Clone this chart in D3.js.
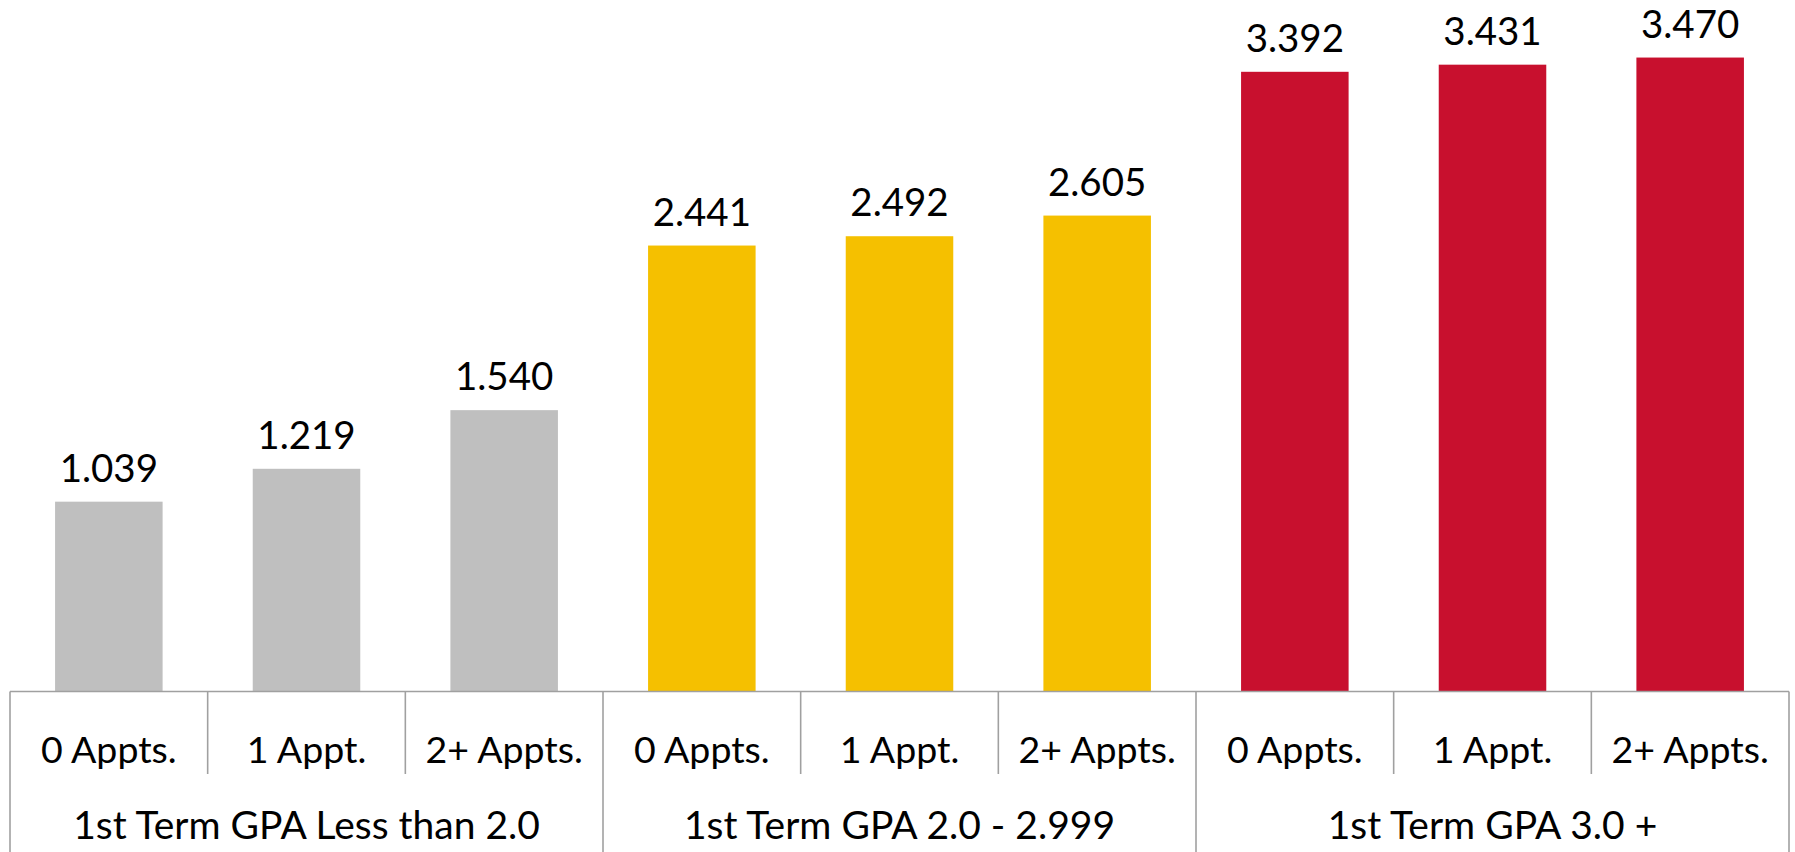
<!DOCTYPE html>
<html>
<head>
<meta charset="utf-8">
<script src="https://cdn.jsdelivr.net/npm/d3@7"></script>
<style>
  html, body { margin: 0; padding: 0; background: #ffffff; }
  svg { display: block; }
  text { font-family: Lato, "Open Sans", "Noto Sans", sans-serif; fill: #000; }
</style>
</head>
<body>
<svg id="chart" width="1795" height="852"></svg>
<script>
// ---- data ----
const groups = ["1st Term GPA Less than 2.0", "1st Term GPA 2.0 - 2.999", "1st Term GPA 3.0 +"];
const subCategories = ["0 Appts.", "1 Appt.", "2+ Appts."];
const groupValues = [
  [1.039, 1.219, 1.540],
  [2.441, 2.492, 2.605],
  [3.392, 3.431, 3.470]
];
const groupColors = ["#bfbfbf", "#f5c000", "#c8102e"];

// ---- layout ----
const W = 1795, H = 852;
const left = 10, right = 1789;
const axisY = 691.5;
const yMax = 3.785;

const svg = d3.select("#chart");

const rows = [];
groups.forEach((g, gi) => {
  subCategories.forEach((s, si) => {
    rows.push({ key: gi + "-" + si, group: g, gi, sub: s, value: groupValues[gi][si] });
  });
});

const xOuter = d3.scaleBand().domain(rows.map(d => d.key)).range([left, right]).paddingInner(0).paddingOuter(0);
const xBar = d3.scaleBand().domain(rows.map(d => d.key)).range([left, right]).paddingInner(0.456).paddingOuter(0.228);
const xGroup = d3.scaleBand().domain(groups).range([left, right]).padding(0);
const y = d3.scaleLinear().domain([0, yMax]).range([axisY, 0]);

// bars
svg.append("g").selectAll("rect").data(rows).join("rect")
  .attr("x", d => xBar(d.key))
  .attr("width", xBar.bandwidth())
  .attr("y", d => y(d.value))
  .attr("height", d => axisY - y(d.value))
  .attr("fill", d => groupColors[d.gi]);

// value labels
svg.append("g").selectAll("text").data(rows).join("text")
  .attr("x", d => xBar(d.key) + xBar.bandwidth() / 2)
  .attr("y", d => y(d.value) - 20)
  .attr("text-anchor", "middle")
  .style("font-size", "38.5px")
  .text(d => d.value.toFixed(3));

// axis lines
const lineColor = "#a0a0a0";
const ax = svg.append("g").attr("stroke", lineColor).attr("stroke-width", 1.6).attr("fill", "none");
ax.append("line").attr("x1", left).attr("x2", right).attr("y1", axisY).attr("y2", axisY);

// inner ticks (between sub-categories)
const innerBounds = rows.map(d => xOuter(d.key)).filter((x, i) => i % 3 !== 0);
ax.selectAll("line.inner").data(innerBounds).join("line").attr("class", "inner")
  .attr("x1", d => d).attr("x2", d => d).attr("y1", axisY).attr("y2", 774);

// group boundaries
const groupBounds = groups.map(g => xGroup(g)).concat([right]);
ax.selectAll("line.grp").data(groupBounds).join("line").attr("class", "grp")
  .attr("x1", d => d).attr("x2", d => d).attr("y1", axisY).attr("y2", H);

// sub-category labels
svg.append("g").selectAll("text").data(rows).join("text")
  .attr("x", d => xOuter(d.key) + xOuter.bandwidth() / 2)
  .attr("y", 763)
  .attr("text-anchor", "middle")
  .style("font-size", "37.5px")
  .text(d => d.sub);

// group labels
svg.append("g").selectAll("text").data(groups).join("text")
  .attr("x", d => xGroup(d) + xGroup.bandwidth() / 2)
  .attr("y", 839)
  .attr("text-anchor", "middle")
  .style("font-size", "39px")
  .text(d => d);
</script>
</body>
</html>
